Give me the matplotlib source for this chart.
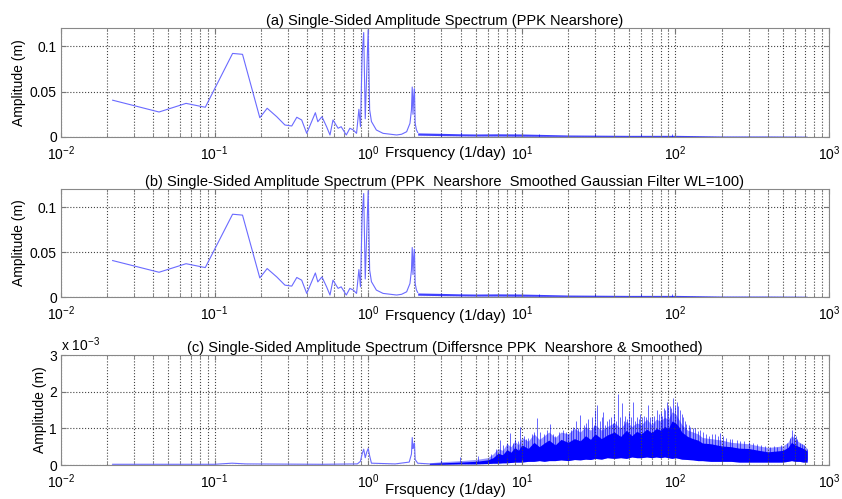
import matplotlib
matplotlib.use("Agg")
import matplotlib.pyplot as plt
from matplotlib.ticker import FuncFormatter, LogLocator, NullFormatter

plt.rcParams['font.family'] = ['Liberation Sans', 'DejaVu Sans']
plt.rcParams['mathtext.default'] = 'regular'

# ---- panel (a)/(b): main spectrum line (freq 1/day, amp m)
spec_f = [0.0217, 0.0435, 0.0652, 0.0870, 0.131, 0.152, 0.197, 0.22, 0.254, 0.287,
          0.318, 0.343, 0.369, 0.398, 0.453, 0.47, 0.5, 0.536, 0.564, 0.59,
          0.637, 0.667, 0.72, 0.76, 0.80, 0.84, 0.87, 0.891, 0.913, 0.935,
          0.957, 0.978, 1.0, 1.022, 1.05, 1.13, 1.25, 1.4, 1.53, 1.65, 1.78,
          1.87, 1.913, 1.935, 1.957, 1.978, 2.0, 2.022, 2.06, 2.1]
spec_amp = [0.0405, 0.0275, 0.037, 0.0327, 0.092, 0.091, 0.0212, 0.0316, 0.0223, 0.0132,
            0.0121, 0.0217, 0.0187, 0.004, 0.0267, 0.0168, 0.0223, 0.0113, 0.0022, 0.0187,
            0.0096, 0.0113, 0.0022, 0.0096, 0.0077, 0.004, 0.0305, 0.0113, 0.09, 0.115,
            0.02, 0.07, 0.118, 0.03, 0.017, 0.0077, 0.004, 0.003, 0.0022, 0.003, 0.0058,
            0.015, 0.03, 0.055, 0.025, 0.045, 0.053, 0.015, 0.008, 0.005]

# high-frequency noise band of panel (a)/(b)
noise_f = [2.1, 3, 4, 5, 7, 10, 20, 50, 100, 200, 400, 720]
noise_lo = [0.002, 0.0015, 0.0012, 0.001, 0.001, 0.0008, 0.0006, 0.0005, 0.0004, 0.0003, 0.0003, 0.0003]
noise_hi = [0.0045, 0.004, 0.0035, 0.0033, 0.0035, 0.0033, 0.0022, 0.0018, 0.0018, 0.0011, 0.0011, 0.0009]
spike_ab_f = [3.0, 4.0, 9.0, 13.0, 30.0, 60.0, 95.0, 600.0]
spike_ab_amp = [0.0045, 0.005, 0.0045, 0.0035, 0.003, 0.0028, 0.003, 0.0015]

# ---- panel (c): difference spectrum (values in 1e-3 m)
diff_f = [0.0217, 0.1, 0.13, 0.16, 0.5, 0.85, 0.89, 0.913, 0.935, 0.957, 0.978, 1.0,
          1.022, 1.05, 1.5, 1.85, 1.913, 1.935, 1.957, 1.978, 2.0, 2.022, 2.1, 2.5]
diff_amp = [0.02, 0.02, 0.05, 0.03, 0.02, 0.03, 0.1, 0.3, 0.43, 0.2, 0.35, 0.45,
            0.25, 0.05, 0.03, 0.08, 0.3, 0.75, 0.45, 0.55, 0.6, 0.15, 0.05, 0.03]

band_f = [2.5, 3, 4, 5, 6, 6.5, 7, 7.5, 8, 8.5, 9, 9.5, 10, 11, 12, 13, 14, 15, 16.5,
          18, 20, 22, 24, 26, 28, 30, 33, 36, 40, 44, 48, 52, 56, 60, 65, 70, 75, 80,
          85, 90, 95, 100, 105, 110, 120, 130, 140, 150, 170, 200, 230, 260, 300, 350,
          400, 450, 500, 540, 570, 600, 640, 680, 720]
band_lo = [0.02, 0.02, 0.03, 0.03, 0.04, 0.05, 0.05, 0.06, 0.06, 0.07, 0.08, 0.08, 0.08,
           0.1, 0.1, 0.12, 0.1, 0.12, 0.12, 0.14, 0.12, 0.15, 0.14, 0.16, 0.15, 0.18,
           0.16, 0.2, 0.18, 0.2, 0.18, 0.22, 0.2, 0.2, 0.22, 0.2, 0.22, 0.2, 0.22, 0.2,
           0.18, 0.2, 0.18, 0.16, 0.15, 0.14, 0.12, 0.12, 0.1, 0.1, 0.1, 0.08, 0.08,
           0.08, 0.08, 0.08, 0.08, 0.1, 0.12, 0.1, 0.1, 0.08, 0.08]
band_mid = [0.05, 0.06, 0.08, 0.1, 0.14, 0.2, 0.32, 0.28, 0.42, 0.35, 0.48, 0.4, 0.55,
            0.45, 0.62, 0.5, 0.6, 0.68, 0.55, 0.7, 0.62, 0.72, 0.66, 0.8, 0.7, 0.85,
            0.72, 0.82, 0.9, 0.78, 0.95, 0.8, 0.92, 0.85, 0.98, 0.88, 1.0, 0.95, 1.05,
            1.0, 1.2, 1.15, 1.05, 0.9, 0.78, 0.72, 0.68, 0.6, 0.58, 0.52, 0.5, 0.46,
            0.45, 0.4, 0.36, 0.38, 0.4, 0.48, 0.62, 0.55, 0.5, 0.45, 0.38]
band_hi = [0.06, 0.09, 0.12, 0.15, 0.2, 0.3, 0.45, 0.4, 0.58, 0.5, 0.65, 0.55, 0.75,
           0.65, 0.85, 0.7, 0.8, 0.9, 0.75, 0.9, 0.85, 1.0, 0.9, 1.05, 0.95, 1.1, 0.95,
           1.05, 1.15, 1.0, 1.2, 1.05, 1.15, 1.1, 1.25, 1.1, 1.25, 1.2, 1.3, 1.25, 1.45,
           1.4, 1.25, 1.1, 0.95, 0.9, 0.85, 0.75, 0.72, 0.68, 0.62, 0.6, 0.58, 0.52,
           0.48, 0.5, 0.52, 0.62, 0.8, 0.72, 0.62, 0.56, 0.45]

spike_f = [3.0, 3.96, 5.2, 6.3, 6.8, 7.2, 7.6, 8.0, 8.4, 8.8, 9.0, 9.4, 9.7, 10.3, 10.7,
           11.0, 11.6, 12.0, 12.5, 13.2, 14.0, 14.6, 15.3, 16.0, 16.5, 17.5, 18.6, 19.3,
           20.0, 21.0, 21.5, 22.5, 23.2, 23.9, 25.5, 26.2, 27.0, 28.5, 29.3, 30.0, 31.0,
           32.5, 33.3, 34.0, 35.0, 36.0, 37.0, 38.0, 39.0, 40.0, 41.0, 42.5, 43.5, 44.7,
           46.0, 47.0, 48.5, 50.0, 51.5, 53.0, 54.5, 56.0, 57.5, 59.0, 60.5, 62.0, 64.0,
           66.7, 68.0, 70.0, 72.0, 75.5, 78.0, 80.0, 82.0, 84.0, 86.0, 87.8, 90.0, 92.0,
           94.0, 97.0, 99.0, 102.0, 104.0, 107.0, 110.0, 112.0, 115.0, 118.0, 122.0,
           125.0, 130.0, 135.0, 140.0, 145.0, 152.0, 158.0, 165.0, 172.0, 180.0, 188.0,
           195.0, 205.0, 215.0, 225.0, 235.0, 251.0, 265.0, 280.0, 300.0, 321.0, 340.0,
           360.0, 385.0, 413.0, 440.0, 460.0, 490.0, 530.0, 555.0, 571.0, 590.0, 605.0,
           620.0, 647.0, 670.0, 690.0, 716.0]
spike_amp = [0.14, 0.23, 0.25, 0.3, 0.45, 0.68, 0.55, 0.6, 0.86, 0.6, 0.7, 0.65, 1.04,
             0.8, 0.7, 0.75, 0.85, 0.9, 1.27, 0.9, 0.85, 0.95, 1.13, 0.85, 0.8, 0.9,
             0.96, 0.9, 0.85, 0.95, 1.05, 1.2, 1.0, 1.36, 1.1, 1.15, 1.25, 1.3, 1.1, 1.5,
             1.63, 1.2, 1.3, 1.45, 1.1, 1.2, 1.25, 1.3, 1.15, 1.4, 1.2, 1.95, 1.3, 1.68,
             1.2, 1.35, 1.25, 1.45, 1.3, 1.72, 1.2, 1.3, 1.25, 1.4, 1.3, 1.35, 1.3,
             1.63, 1.3, 1.3, 1.35, 1.5, 1.4, 1.45, 1.35, 1.55, 1.5, 1.72, 1.6, 1.6,
             1.55, 1.82, 1.6, 1.72, 1.6, 1.5, 1.4, 1.3, 1.2, 1.13, 1.1, 1.05, 1.0, 1.0,
             0.92, 0.95, 0.9, 0.85, 0.8, 0.85, 0.85, 0.78, 0.86, 0.8, 0.75, 0.72, 0.7,
             0.68, 0.66, 0.65, 0.62, 0.59, 0.56, 0.55, 0.52, 0.5, 0.52, 0.5, 0.55, 0.6,
             0.75, 0.96, 0.85, 0.78, 0.7, 0.6, 0.58, 0.55, 0.45]

titles = ['(a) Single-Sided Amplitude Spectrum (PPK Nearshore)',
          '(b) Single-Sided Amplitude Spectrum (PPK  Nearshore  Smoothed Gaussian Filter WL=100)',
          '(c) Single-Sided Amplitude Spectrum (Differsnce PPK  Nearshore & Smoothed)']

fig = plt.figure(figsize=(8.42, 4.99), dpi=100)
boxes = [[0.0724, 0.7255, 0.9122, 0.2184],
         [0.0724, 0.4048, 0.9122, 0.2164],
         [0.0724, 0.0681, 0.9122, 0.2204]]
axs = [fig.add_axes(b) for b in boxes]

line_c = '#6a6aff'
for i, ax in enumerate(axs):
    ax.set_xscale('log')
    ax.set_xlim(1e-2, 1e3)
    ax.xaxis.set_major_locator(LogLocator(base=10, numticks=10))
    ax.xaxis.set_minor_locator(LogLocator(base=10, subs=range(2, 10), numticks=100))
    ax.xaxis.set_minor_formatter(NullFormatter())
    ax.grid(True, which='both', axis='x', linestyle=':', color='#444444', linewidth=0.8)
    ax.grid(True, which='major', axis='y', linestyle=':', color='#444444', linewidth=0.8)
    ax.tick_params(which='both', direction='in', top=True, right=True, labelsize=10,
                   color='#777777')
    ax.tick_params(axis='x', pad=5)
    ax.tick_params(axis='y', pad=3)
    ax.tick_params(which='minor', length=2)
    for s in ax.spines.values():
        s.set_color('#888888')
    ax.set_title(titles[i], fontsize=10.5, pad=2)
    ax.set_ylabel('Amplitude (m)', fontsize=10)
    ax.set_xlabel('Frsquency (1/day)', fontsize=10.8)

for ax in axs[:2]:
    ax.plot(spec_f, spec_amp, color=line_c, linewidth=0.8)
    ax.fill_between(noise_f, noise_lo, noise_hi, color='blue', alpha=0.75, linewidth=0)
    ax.vlines(spike_ab_f, 0, spike_ab_amp, color='blue', linewidth=0.6, alpha=0.7)
    ax.set_ylim(0, 0.12)
    ax.set_yticks([0, 0.05, 0.1])
    ax.yaxis.set_major_formatter(FuncFormatter(lambda v, p: '%g' % v))
    ax.yaxis.set_label_coords(-0.045, 0.5)

axs[0].xaxis.set_label_coords(0.5, -0.08)
axs[1].xaxis.set_label_coords(0.5, -0.11)

ax = axs[2]
ax.plot(diff_f, [v * 1e-3 for v in diff_amp], color=line_c, linewidth=0.8)
ax.fill_between(band_f, [v * 1e-3 for v in band_lo], [v * 1e-3 for v in band_hi],
                color='#3c3cff', alpha=0.55, linewidth=0)
ax.fill_between(band_f, [v * 1e-3 for v in band_lo], [v * 1e-3 for v in band_mid],
                color='blue', linewidth=0)
ax.vlines(spike_f, [v * 0.3e-3 for v in spike_amp], [v * 1e-3 for v in spike_amp],
          color='blue', linewidth=0.7, alpha=0.6)
ax.set_ylim(0, 3e-3)
ax.set_yticks([0, 1e-3, 2e-3, 3e-3])
ax.yaxis.set_major_formatter(FuncFormatter(lambda v, p: '%g' % round(v * 1e3, 3)))
ax.yaxis.set_label_coords(-0.018, 0.5)
ax.xaxis.set_label_coords(0.5, -0.165)
ax.text(0.0, 1.01, 'x 10$^{-3}$', transform=ax.transAxes, fontsize=10, va='bottom', ha='left')

fig.savefig('out.png', dpi=100)
